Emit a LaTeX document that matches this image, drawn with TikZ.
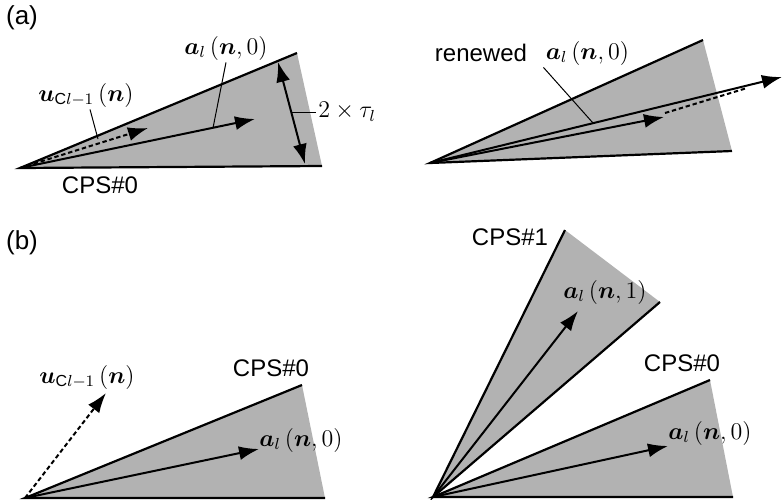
\documentclass[tikz,border=0pt]{standalone}
\usepackage{amsmath}
\usepackage{amssymb}
\usepackage{fontspec}
\setmainfont{Liberation Sans}
\usepackage{tikz}
\usetikzlibrary{positioning, arrows.meta}

\tikzset{
  wedge/.style={fill=black!30},
  rim/.style={line width=1.1pt},
  vec/.style={-{Latex[length=10pt,width=7pt]}, line width=1pt},
  dvec/.style={vec, dash pattern=on 2.2pt off 1.4pt},
  lead/.style={line width=0.5pt},
  lbl/.style={inner sep=1pt}
}
\newcommand{\al}[1]{$\boldsymbol{a}_l\,(\boldsymbol{n},#1)$}
\newcommand{\uc}{$\boldsymbol{u}_{\mathrm{C}l-1}\,(\boldsymbol{n})$}

\begin{document}
\begin{tikzpicture}[x=0.5pt,y=-0.5pt,font=\fontsize{12}{14}\selectfont]
\useasboundingbox (0,0) rectangle (782,499);
\node[lbl,font=\fontsize{13}{15}\selectfont] (pa) at (22,18) {(a)};
\node[lbl,font=\fontsize{13}{15}\selectfont] (pb) at (22,243) {(b)};
% (a) left
\coordinate (A0) at (20,168);
\coordinate (A1) at (297,53);
\coordinate (A2) at (322,166);
\fill[wedge] (A0) -- (A1) -- (A2) -- cycle;
\draw[rim] (A1) -- (A0) -- (A2);
\coordinate (aT) at (255,119);
\coordinate (uT) at (148,128);
\draw[vec] (A0) -- (aT);
\draw[dvec] (A0) -- (uT);
\node[lbl] (aL) at (226,48) {\al{0}};
\node[lbl] (uL) at (86,95) {\uc};
\coordinate (aP) at (213,128);
\coordinate (uP) at (98,139);
\draw[lead] (aL.south) -- (aP);
\draw[lead] (uL.south) ++(4,0) -- (uP);
\coordinate (dT) at (278,62);
\coordinate (dB) at (305,164);
\draw[vec,{Latex[length=10pt,width=7pt]}-{Latex[length=10pt,width=7pt]}] (dT) -- (dB);
\node[lbl,anchor=west] (tauL) at (316,112) {$2\times\tau_l$};
\coordinate (tP) at (291,112);
\draw[lead] (tP) -- (tauL.west);
\node[lbl] (cpsA) at (100,185) {CPS\#0};
% (a) right
\coordinate (B0) at (430,163);
\coordinate (B1) at (703,40);
\coordinate (B2) at (732,151);
\fill[wedge] (B0) -- (B1) -- (B2) -- cycle;
\draw[rim] (B1) -- (B0) -- (B2);
\coordinate (bT) at (664,117);
\coordinate (bU) at (782,77);
\coordinate (bS) at (665,113);
\coordinate (bM) at (747,88);
\draw[vec] (B0) -- (bT);
\draw[vec] (B0) -- (bU);
\draw[lead,line width=1pt,dash pattern=on 2.2pt off 1.4pt] (bS) -- (bM);
\node[lbl] (rwL) at (481,53) {renewed};
\node[lbl,right=7pt of rwL] (raL) {\al{0}};
\coordinate (rP) at (593,123);
\draw[lead] (raL.south west) -- (rP);
% (b) left
\coordinate (C0) at (25,498);
\coordinate (C1) at (302,385);
\coordinate (C2) at (325,498);
\fill[wedge] (C0) -- (C1) -- (C2) -- cycle;
\draw[rim] (C1) -- (C0) -- (C2);
\coordinate (cT) at (259,449);
\coordinate (cU) at (106,393);
\draw[vec] (C0) -- (cT);
\draw[dvec] (C0) -- (cU);
\node[lbl] (cuL) at (87,377) {\uc};
\node[lbl] (cpsB) at (271,368) {CPS\#0};
\node[lbl] (caL) at (301,440) {\al{0}};
% (b) right
\coordinate (D0) at (433,497);
\coordinate (D1) at (565,230);
\coordinate (D2) at (660,302);
\coordinate (D3) at (710,380);
\coordinate (D4) at (733,497);
\fill[wedge] (D0) -- (D1) -- (D2) -- cycle;
\fill[wedge] (D0) -- (D3) -- (D4) -- cycle;
\draw[rim] (D1) -- (D0) -- (D2);
\draw[rim] (D3) -- (D0) -- (D4);
\coordinate (dA1) at (578,311);
\coordinate (dA0) at (668,446);
\draw[vec] (D0) -- (dA1);
\draw[vec] (D0) -- (dA0);
\node[lbl] (cps1) at (510,237) {CPS\#1};
\node[lbl] (da1L) at (605,292) {\al{1}};
\node[lbl] (cps0) at (682,363) {CPS\#0};
\node[lbl] (da0L) at (710,433) {\al{0}};
\end{tikzpicture}
\end{document}
